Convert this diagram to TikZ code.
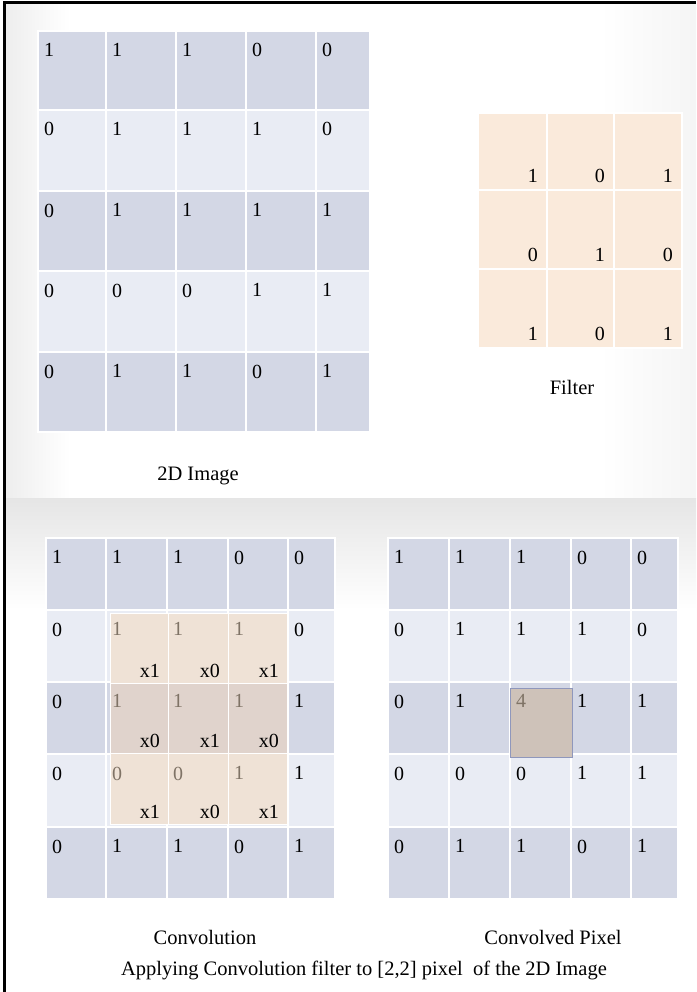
\documentclass[tikz,border=0pt]{standalone}
\usepackage{fontspec}
\setmainfont{Liberation Serif}
\definecolor{rowA}{HTML}{D3D7E5}
\definecolor{rowB}{HTML}{E9ECF4}
\definecolor{peach}{HTML}{FAEADB}
\definecolor{ovA}{HTML}{EFE2D6}
\definecolor{ovB}{HTML}{E0D3CC}
\definecolor{ovtxt}{HTML}{7F7366}
\definecolor{hl}{HTML}{CEC2B9}
\definecolor{hlb}{HTML}{8F97BC}
\tikzset{
  cellbox/.style={draw=white, line width=1.5pt},
  num/.style={inner sep=0pt, font=\fontsize{20}{23}\selectfont},
  mult/.style={inner sep=0pt, font=\fontsize{20}{23}\selectfont, anchor=base east},
  caption/.style={inner sep=0pt, font=\fontsize{20.5}{24}\selectfont},
}
% grid fills: #1 xs, #2 ys
\newcommand\gridfill[2]{%
  \foreach \r in {0,...,4}{%
    \foreach \c in {0,...,4}{%
      \pgfmathsetmacro\xa{#1[\c]}\pgfmathsetmacro\xb{#1[\c+1]}%
      \pgfmathsetmacro\ya{#2[\r]}\pgfmathsetmacro\yb{#2[\r+1]}%
      \ifodd\r\def\cf{rowB}\else\def\cf{rowA}\fi
      \filldraw[cellbox, fill=\cf] (\xa,\ya) rectangle (\xb,\yb);
    }}}
% grid numbers: #1 prefix, #2 xs, #3 ys, #4 values, #5 condition for faded colour
\newcommand\gridnums[5]{%
  \foreach \r in {0,...,4}{%
    \foreach \c in {0,...,4}{%
      \pgfmathsetmacro\xa{#2[\c]}%
      \pgfmathsetmacro\ya{#3[\r]}%
      \pgfmathtruncatemacro\idx{\r*5+\c}%
      \pgfmathtruncatemacro\v{#4[\idx]}%
      \pgfmathtruncatemacro\isov{#5}%
      \ifnum\isov=1\def\tc{ovtxt}\else\def\tc{black}\fi
      \node[num, anchor=north west, text=\tc] (#1-\r-\c) at (\xa+6,\ya+12.5) {\v};
    }}}
\def\gxT{{38,106,176,246,316,370}}
\def\gyT{{31,110,191,271,352,432}}
\def\gxL{{46,106,167,228,288,335}}
\def\gxR{{388,449,510,571,631,678}}
\def\gyB{{538,610,682,754,827,899}}
\def\valsA{{1,1,1,0,0, 0,1,1,1,0, 0,1,1,1,1, 0,0,0,1,1, 0,1,1,0,1}}
\def\valsR{{1,1,1,0,0, 0,1,1,1,0, 0,1,4,1,1, 0,0,0,1,1, 0,1,1,0,1}}
\def\fx{{478,547,614,682}}
\def\fy{{113,190,269,348}}
\def\fv{{1,0,1, 0,1,0, 1,0,1}}
\def\ox{{110,168,228,287}}
\def\oy{{613,683,753,824}}
\begin{document}
\begin{tikzpicture}[x=1pt,y=-1pt]
\useasboundingbox (0,0) rectangle (696,992);
% backgrounds
\fill[white] (0,0) rectangle (696,992);
\shade[left color=black!7, right color=white] (4,4) rectangle (70,498);
\shade[left color=white, right color=black!4] (600,4) rectangle (696,498);
\shade[top color=black!10, bottom color=white] (4,498) rectangle (696,610);
% frame
\draw[line width=3pt] (4.5,992) -- (4.5,3) -- (696,3);

% top 2D image grid
\gridfill{\gxT}{\gyT}
\gridnums{T}{\gxT}{\gyT}{\valsA}{0}
\node[caption] (capimg) at (198,476) {2D Image};

% filter
\foreach \r in {0,1,2}{%
  \foreach \c in {0,1,2}{%
    \pgfmathsetmacro\xa{\fx[\c]}\pgfmathsetmacro\xb{\fx[\c+1]}%
    \pgfmathsetmacro\ya{\fy[\r]}\pgfmathsetmacro\yb{\fy[\r+1]}%
    \filldraw[cellbox, fill=peach] (\xa,\ya) rectangle (\xb,\yb);
  }}
\foreach \r in {0,1,2}{%
  \foreach \c in {0,1,2}{%
    \pgfmathsetmacro\xb{\fx[\c+1]}%
    \pgfmathsetmacro\yb{\fy[\r+1]}%
    \pgfmathtruncatemacro\idx{\r*3+\c}%
    \pgfmathtruncatemacro\v{\fv[\idx]}%
    \node[num, anchor=south east] (F-\r-\c) at (\xb-9,\yb-7) {\v};
  }}
\node[caption] (capfilter) at (572,387) {Filter};

% convolution grid
\gridfill{\gxL}{\gyB}
\foreach \r in {0,1,2}{%
  \foreach \c in {0,1,2}{%
    \pgfmathsetmacro\xa{\ox[\c]}\pgfmathsetmacro\xb{\ox[\c+1]}%
    \pgfmathsetmacro\ya{\oy[\r]}\pgfmathsetmacro\yb{\oy[\r+1]}%
    \ifnum\r=1\def\cf{ovB}\else\def\cf{ovA}\fi
    \filldraw[cellbox, fill=\cf, line width=1pt] (\xa,\ya) rectangle (\xb,\yb);
  }}
\gridnums{L}{\gxL}{\gyB}{\valsA}{(\r>0)*(\r<4)*(\c>0)*(\c<4)}
\foreach \r in {0,1,2}{%
  \foreach \c in {0,1,2}{%
    \pgfmathsetmacro\xb{\ox[\c+1]}%
    \pgfmathsetmacro\yb{\oy[\r+1]}%
    \pgfmathtruncatemacro\idx{\r*3+\c}%
    \pgfmathtruncatemacro\v{\fv[\idx]}%
    \node[mult] (X-\r-\c) at (\xb-8,\yb-6) {x\v};
  }}
\node[caption] (capconv) at (205,937) {Convolution};

% convolved pixel grid
\gridfill{\gxR}{\gyB}
\filldraw[fill=hl, draw=hlb, line width=1pt] (510,688) rectangle (572,757);
\gridnums{R}{\gxR}{\gyB}{\valsR}{(\r==2)*(\c==2)}
\node[caption] (capconvd) at (553,937) {Convolved Pixel};

\node[caption] (capall) at (364,970) {Applying Convolution filter to [2,2] pixel\ \ of the 2D Image};
\end{tikzpicture}
\end{document}
